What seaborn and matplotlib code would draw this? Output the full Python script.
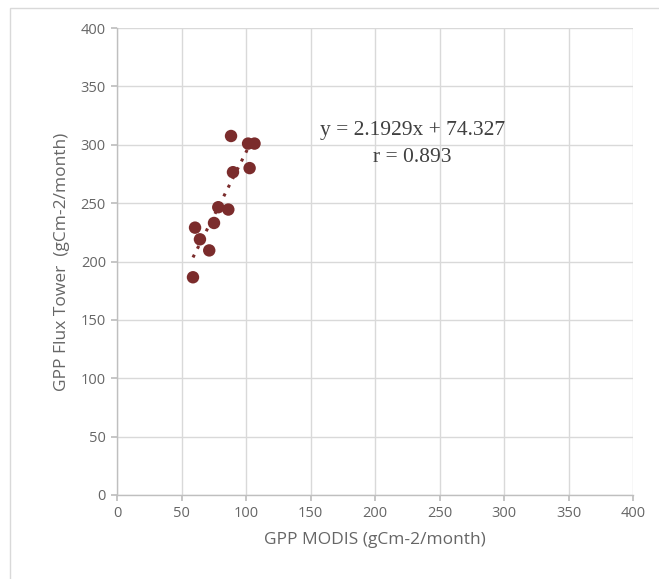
import numpy as np
import pandas as pd
import matplotlib
matplotlib.use("Agg")
import matplotlib.pyplot as plt
import seaborn as sns
from matplotlib.patches import Rectangle

gpp_modis = [58.9, 60.5, 64.3, 71.5, 75.2, 78.5, 86.3, 88.4, 89.9, 101.6, 102.8, 106.6]
gpp_tower = [186.5, 229.0, 219.0, 209.5, 233.0, 246.5, 244.5, 307.5, 276.5, 301.0, 280.0, 301.0]
slope = 2.1929
intercept = 74.327
r_value = 0.893
ticks = [0, 50, 100, 150, 200, 250, 300, 350, 400]

df = pd.DataFrame({"x": gpp_modis, "y": gpp_tower})

sns.set_theme(style="white")
plt.rcParams['font.family'] = ['Open Sans', 'DejaVu Sans']

fig = plt.figure(figsize=(6.59, 5.79), dpi=100)
ax = fig.add_axes([117/659, 1-495/579, (633-117)/659, (495-28)/579])

# outer chart border
fig.patches.append(Rectangle((10/659, -0.01), 1.0, 1-8/579+0.01, transform=fig.transFigure,
                             fill=False, edgecolor="#d9d9d9", linewidth=1.0))

grid_c = "#d9d9d9"
ax.set_xlim(0, 400)
ax.set_ylim(0, 400)
ax.set_xticks(ticks)
ax.set_yticks(ticks)
ax.grid(True, color=grid_c, linewidth=1.0)
ax.set_axisbelow(True)
for s in ["top", "right"]:
    ax.spines[s].set_visible(False)
for s in ["left", "bottom"]:
    ax.spines[s].set_color("#bfbfbf")
    ax.spines[s].set_linewidth(1.0)
ax.tick_params(axis="both", length=4, color="#bfbfbf", labelcolor="#666666", labelsize=10.5, pad=4,
               direction="out", left=True, bottom=True)

xs = np.array([min(gpp_modis), max(gpp_modis)])
ax.plot(xs, slope * xs + intercept, linestyle=(0, (1, 2.2)), color="#7b2c2c", linewidth=2.2, zorder=2)

sns.scatterplot(data=df, x="x", y="y", ax=ax, color="#7b2c2c", s=80, edgecolor="none", zorder=3)

ax.set_xlabel("GPP MODIS (gCm-2/month)", color="#666666", fontsize=12.5, labelpad=8)
ax.set_ylabel("GPP Flux Tower  (gCm-2/month)", color="#666666", fontsize=12.5, labelpad=8)

ax.text(229, 312, f"y = {slope}x + {intercept}", ha="center", va="center", fontsize=15.5,
        family="Liberation Serif", color="#404040")
ax.text(229, 289.5, f"r = {r_value}", ha="center", va="center", fontsize=15.5,
        family="Liberation Serif", color="#404040")

fig.savefig("out.png", dpi=100)
